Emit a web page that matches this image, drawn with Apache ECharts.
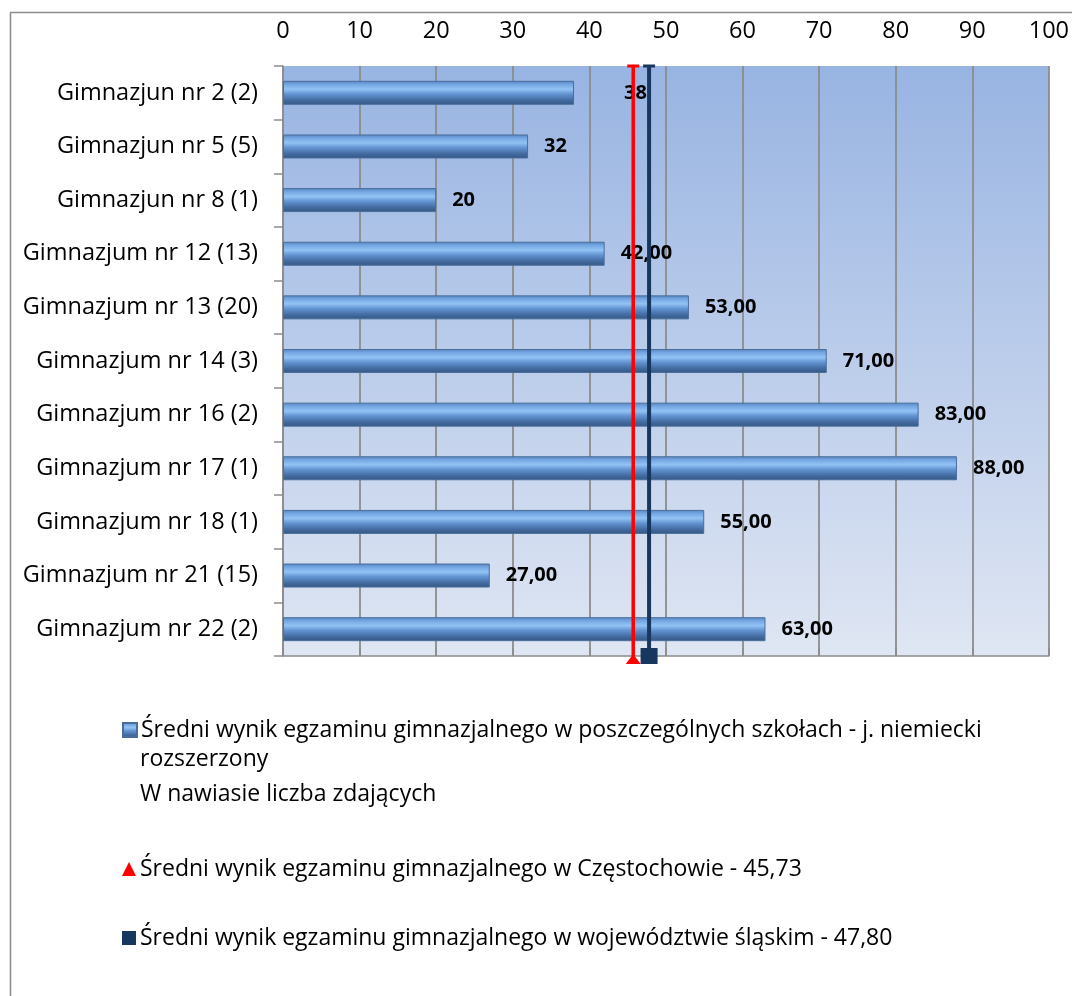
<!DOCTYPE html>
<html>
<head>
<meta charset="utf-8">
<script src="https://cdn.jsdelivr.net/npm/echarts@6/dist/echarts.min.js"></script>
<style>
html,body{margin:0;padding:0;background:#fff;}
#chart{width:1072px;height:996px;}
</style>
</head>
<body>
<div id="chart"></div>
<script>
const categories = [
  'Gimnazjun nr 2 (2)',
  'Gimnazjun nr 5 (5)',
  'Gimnazjun nr 8 (1)',
  'Gimnazjum nr 12 (13)',
  'Gimnazjum nr 13 (20)',
  'Gimnazjum nr 14 (3)',
  'Gimnazjum nr 16 (2)',
  'Gimnazjum nr 17 (1)',
  'Gimnazjum nr 18 (1)',
  'Gimnazjum nr 21 (15)',
  'Gimnazjum nr 22 (2)'
];
const schoolValues = [38, 32, 20, 42, 53, 71, 83, 88, 55, 27, 63];
const schoolLabels = ['38', '32', '20', '42,00', '53,00', '71,00', '83,00', '88,00', '55,00', '27,00', '63,00'];
const cityAverage = 45.73;
const regionAverage = 47.80;
const xTicks = [0, 10, 20, 30, 40, 50, 60, 70, 80, 90, 100];

const nameBars = 'Średni wynik egzaminu gimnazjalnego w poszczególnych szkołach - j. niemiecki rozszerzony W nawiasie liczba zdających';
const nameCity = 'Średni wynik egzaminu gimnazjalnego w Częstochowie - 45,73';
const nameRegion = 'Średni wynik egzaminu gimnazjalnego w województwie śląskim - 47,80';

const FONT = 'Open Sans';
const chart = echarts.init(document.getElementById('chart'));

const barGradient = new echarts.graphic.LinearGradient(0, 0, 0, 1, [
  {offset: 0, color: '#5585c2'},
  {offset: 0.15, color: '#74a6e2'},
  {offset: 0.35, color: '#93c3f5'},
  {offset: 0.55, color: '#6394d2'},
  {offset: 0.8, color: '#446ca2'},
  {offset: 1, color: '#345782'}
]);

const legendBase = {
  orient: 'vertical',
  left: 117,
  itemWidth: 14,
  itemHeight: 14,
  itemGap: 0,
  selectedMode: false,
  textStyle: {fontFamily: FONT, fontSize: 23, color: '#000', lineHeight: 30, padding: [0, 0, 0, -1]}
};

chart.setOption({
  animation: false,
  backgroundColor: '#fff',
  grid: {
    left: 283, right: 22, top: 66, bottom: 340,
    show: true,
    borderWidth: 0,
    backgroundColor: new echarts.graphic.LinearGradient(0, 0, 0, 1, [
      {offset: 0, color: '#98b4e2'},
      {offset: 1, color: '#dfe6f3'}
    ])
  },
  legend: [
    Object.assign({}, legendBase, {
      top: 710,
      data: [{name: nameBars, icon: 'rect'}],
      formatter: () => 'Średni wynik egzaminu gimnazjalnego w poszczególnych szkołach - j. niemiecki'
    }),
    Object.assign({}, legendBase, {
      top: 849,
      data: [{name: nameCity, icon: 'triangle'}]
    }),
    Object.assign({}, legendBase, {
      top: 918,
      data: [{name: nameRegion, icon: 'rect'}]
    })
  ],
  graphic: [
    {type: 'rect', silent: true, shape: {x: 10.5, y: 12.5, width: 1200, height: 1200},
     style: {fill: 'none', stroke: '#8c8c8c', lineWidth: 1.5}},
    {type: 'text', silent: true, x: 140, y: 759,
     style: {text: 'rozszerzony', font: '23px "Open Sans"', fill: '#000', textVerticalAlign: 'middle'}},
    {type: 'text', silent: true, x: 140, y: 794,
     style: {text: 'W nawiasie liczba zdających', font: '23px "Open Sans"', fill: '#000', textVerticalAlign: 'middle'}}
  ],
  xAxis: {
    type: 'value',
    position: 'top',
    min: 0, max: 100, interval: 10,
    axisLine: {show: true, lineStyle: {color: '#8c8c8c', width: 1.5}},
    axisTick: {show: true, length: 8, lineStyle: {color: '#8c8c8c', width: 1.5}},
    splitLine: {show: true, lineStyle: {color: '#8c8c8c', width: 1.8}},
    axisLabel: {fontFamily: FONT, fontSize: 23.5, color: '#000', margin: 23,
      formatter: v => String(xTicks[xTicks.indexOf(v)])}
  },
  yAxis: [
    {
      type: 'category',
      data: categories,
      inverse: true,
      axisLine: {show: true, lineStyle: {color: '#8c8c8c', width: 1.5}},
      axisTick: {show: true, length: 9, lineStyle: {color: '#8c8c8c', width: 1.5}},
      axisLabel: {fontFamily: FONT, fontSize: 23.5, color: '#000', margin: 25},
      splitLine: {show: false}
    },
    {
      type: 'value', min: 0, max: 1, show: false
    }
  ],
  series: [
    {
      name: nameBars,
      type: 'bar',
      yAxisIndex: 0,
      barWidth: 24,
      data: schoolValues.map((v, i) => ({
        value: v,
        label: {distance: i === 0 ? 50 : 16}
      })),
      itemStyle: {color: barGradient, borderColor: '#4a6e9c', borderWidth: 1},
      label: {
        show: true,
        position: 'right',
        fontFamily: FONT,
        fontWeight: 'bold',
        fontSize: 20,
        color: '#000',
        formatter: p => schoolLabels[p.dataIndex]
      },
      z: 2
    },
    {
      name: nameCity,
      type: 'line',
      yAxisIndex: 1,
      color: '#ff0000',
      lineStyle: {color: '#ff0000', width: 3.5},
      itemStyle: {color: '#ff0000'},
      data: [
        {value: [cityAverage, 1], symbol: 'rect', symbolSize: [12, 3]},
        {value: [cityAverage, 0], symbol: 'triangle', symbolSize: [15, 10], symbolOffset: [0, 3]}
      ],
      showSymbol: true,
      z: 4
    },
    {
      name: nameRegion,
      type: 'line',
      yAxisIndex: 1,
      color: '#17375e',
      lineStyle: {color: '#17375e', width: 4},
      itemStyle: {color: '#17375e'},
      data: [
        {value: [regionAverage, 1], symbol: 'rect', symbolSize: [12, 3]},
        {value: [regionAverage, 0], symbol: 'rect', symbolSize: [17, 16]}
      ],
      showSymbol: true,
      z: 4
    }
  ]
});
</script>
</body>
</html>
